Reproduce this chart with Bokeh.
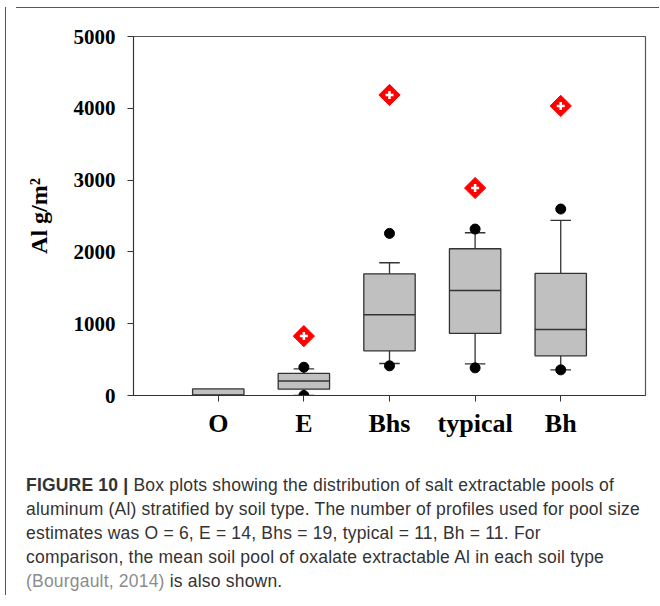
from bokeh.plotting import figure
from bokeh.models import FactorRange, Range1d, FixedTicker, Div, ColumnDataSource, Spacer
from bokeh.layouts import column, row
from bokeh.transform import dodge
from bokeh.embed import file_html
from bokeh.resources import INLINE
import numpy as np

# ---- data ----
soil_types = ["O", "E", "Bhs", "typical", "Bh"]
q1 = [0, 88, 622, 864, 552]
median = [8, 203, 1124, 1464, 920]
q3 = [92, 307, 1695, 2044, 1700]
whisker_low = [0, 0, 446, 440, 357]
whisker_high = [92, 371, 1849, 2267, 2439]
outlier_types = ["E", "E", "Bhs", "Bhs", "typical", "typical", "Bh", "Bh"]
outlier_values = [394, 0, 2258, 413, 2318, 385, 2597, 357]
mean_types = ["E", "Bhs", "typical", "Bh"]
oxalate_mean = [827, 4186, 2890, 4033]
y_ticks = [0, 1000, 2000, 3000, 4000, 5000]

SERIF = "Liberation Serif"

p = figure(width=643, height=430, output_backend="svg", toolbar_location=None,
           x_range=FactorRange(factors=soil_types, range_padding=0.49,
                               range_padding_units="absolute"),
           y_range=Range1d(0, 5000),
           min_border_left=122, min_border_top=23, min_border_right=9,
           min_border_bottom=48)
p.xgrid.visible = False
p.ygrid.visible = False
p.outline_line_color = "#555555"
p.outline_line_width = 1.2
p.background_fill_color = "white"
p.border_fill_color = "white"

boxes = ColumnDataSource(dict(cat=soil_types, q1=q1, med=median, q3=q3,
                              lo=whisker_low, hi=whisker_high))
whisk_idx = [i for i in range(len(soil_types))
             if whisker_high[i] != q3[i] or whisker_low[i] != q1[i]]
whisk = ColumnDataSource(dict(cat=[soil_types[i] for i in whisk_idx],
                              q1=[q1[i] for i in whisk_idx],
                              q3=[q3[i] for i in whisk_idx],
                              lo=[whisker_low[i] for i in whisk_idx],
                              hi=[whisker_high[i] for i in whisk_idx]))

LC = "#333333"
# whiskers
p.segment(x0="cat", y0="q3", x1="cat", y1="hi", source=whisk, line_color=LC, line_width=1.3)
p.segment(x0="cat", y0="q1", x1="cat", y1="lo", source=whisk, line_color=LC, line_width=1.3)
# caps
for col in ("hi", "lo"):
    p.segment(x0=dodge("cat", -0.12, range=p.x_range), y0=col,
              x1=dodge("cat", 0.12, range=p.x_range), y1=col,
              source=whisk, line_color=LC, line_width=1.3)
# boxes
p.vbar(x="cat", width=0.6, bottom="q1", top="q3", source=boxes,
       fill_color="#c0c0c0", line_color=LC, line_width=1.3)
# medians
p.segment(x0=dodge("cat", -0.3, range=p.x_range), y0="med",
          x1=dodge("cat", 0.3, range=p.x_range), y1="med",
          source=boxes, line_color=LC, line_width=1.5)
# outliers
p.scatter(x=outlier_types, y=outlier_values, size=10, marker="circle",
          fill_color="black", line_color="black")
# oxalate means
p.scatter(x=mean_types, y=oxalate_mean, marker="square", angle=np.pi / 4,
          size=15, fill_color="#ff0000", line_color="#ff0000")
p.scatter(x=mean_types, y=oxalate_mean, marker="cross", size=8,
          line_color="white", line_width=2.5)

# axes
p.yaxis.ticker = FixedTicker(ticks=y_ticks)
for ax in (p.xaxis[0], p.yaxis[0]):
    ax.major_tick_out = 6
    ax.major_tick_in = 0
    ax.minor_tick_out = 0
    ax.minor_tick_in = 0
    ax.axis_line_color = LC
    ax.major_tick_line_color = LC
    ax.major_label_text_font = SERIF
    ax.major_label_text_font_style = "bold"
    ax.major_label_text_color = "black"
p.yaxis.major_label_text_font_size = "21px"
p.yaxis.major_label_standoff = 12
p.xaxis.major_label_text_font_size = "26px"
p.xaxis.major_label_standoff = 7
p.yaxis.axis_label = "Al g/m²"
p.yaxis.axis_label_text_font = SERIF
p.yaxis.axis_label_text_font_style = "bold"
p.yaxis.axis_label_text_font_size = "24px"
p.yaxis.axis_label_text_color = "black"
p.yaxis.axis_label_standoff = 19

caption_html = (
    '<div style="font-family: \'Liberation Sans\', sans-serif; font-size: 17.5px; '
    'letter-spacing: 0.2px; line-height: 24px; color: #333; padding-top: 25px; '
    'padding-left: 10px; white-space: nowrap;">'
    '<b>FIGURE 10 |</b> Box plots showing the distribution of salt extractable pools of<br>'
    'aluminum (Al) stratified by soil type. The number of profiles used for pool size<br>'
    'estimates was O = 6, E = 14, Bhs = 19, typical = 11, Bh = 11. For<br>'
    'comparison, the mean soil pool of oxalate extractable Al in each soil type<br>'
    '<span style="color:#8c8c8c">(Bourgault, 2014)</span> is also shown.'
    '</div>'
)
cap = Div(text=caption_html, width=643, height=148)

# frame border of the figure panel (left and top edges)
left_line = Div(text="", width=1, height=588, styles={"background-color": "#555555"})
top_line = Div(text="", width=643, height=1, styles={"background-color": "#555555"})

layout = row(column(Spacer(width=1, height=2), left_line),
             column(Spacer(width=643, height=2), top_line, p, cap))

open("out.html", "w").write(file_html(layout, INLINE))
